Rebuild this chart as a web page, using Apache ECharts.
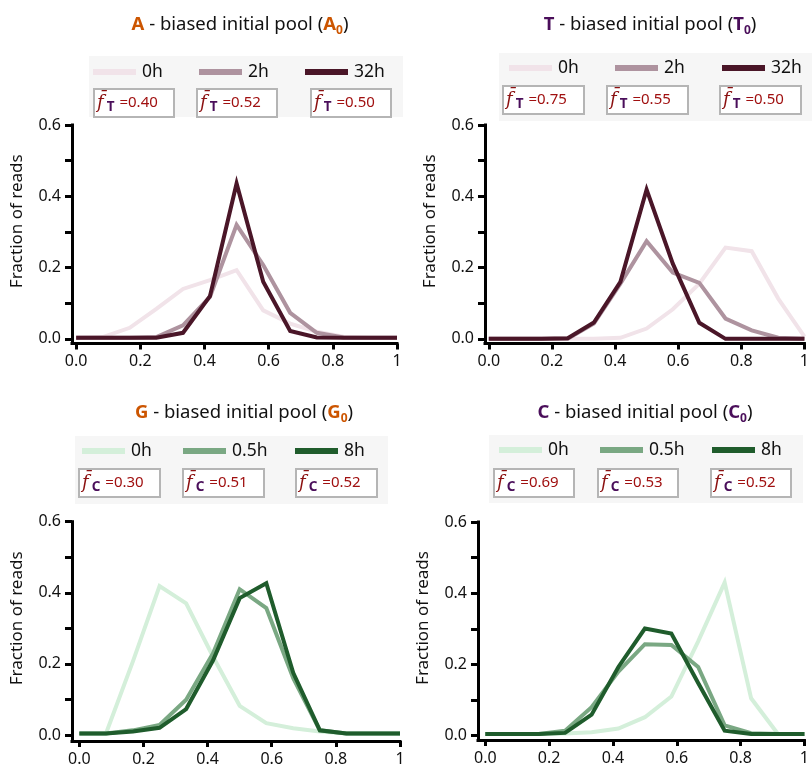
<!DOCTYPE html>
<html>
<head>
<meta charset="utf-8">
<script src="https://cdn.jsdelivr.net/npm/echarts@6/dist/echarts.min.js"></script>
<style>
  html, body { margin: 0; padding: 0; background: #ffffff; }
  #chart { width: 812px; height: 769px; }
</style>
</head>
<body>
<div id="chart"></div>
<script>
// Bin centres of the fraction axis (12 bins between 0 and 1)
const binCenters = [0, 0.083, 0.167, 0.25, 0.333, 0.417, 0.5, 0.583, 0.667, 0.75, 0.833, 0.917, 1];

// Axis ticks
const xTickValues = [0, 0.2, 0.4, 0.6, 0.8, 1];
const xTickLabels = ['0.0', '0.2', '0.4', '0.6', '0.8', '1'];
const yTickValues = [0, 0.1, 0.2, 0.3, 0.4, 0.5, 0.6];
const yLabelValues = [0, 0.2, 0.4, 0.6];
const yLabelTexts = ['0.0', '0.2', '0.4', '0.6'];

// A-biased pool
const aTimes = ['0h', '2h', '32h'];
const a0h  = [0.003, 0.005, 0.031, 0.084, 0.140, 0.165, 0.193, 0.080, 0.043, 0.020, 0.006, 0.003, 0.003];
const a2h  = [0.003, 0.003, 0.003, 0.005, 0.038, 0.118, 0.320, 0.207, 0.073, 0.017, 0.004, 0.003, 0.003];
const a32h = [0.003, 0.003, 0.003, 0.003, 0.017, 0.120, 0.436, 0.160, 0.022, 0.004, 0.003, 0.003, 0.003];
const aMeans = ['0.40', '0.52', '0.50'];

// T-biased pool
const tTimes = ['0h', '2h', '32h'];
const t0h  = [0, 0, 0, 0, 0, 0.003, 0.029, 0.083, 0.155, 0.256, 0.246, 0.113, 0.006];
const t2h  = [0, 0, 0, 0, 0.043, 0.155, 0.274, 0.186, 0.157, 0.057, 0.024, 0.003, 0];
const t32h = [0, 0, 0, 0.002, 0.046, 0.160, 0.419, 0.211, 0.045, 0, 0, 0, 0];
const tMeans = ['0.75', '0.55', '0.50'];

// G-biased pool
const gTimes = ['0h', '0.5h', '8h'];
const g0h  = [0.004, 0.004, 0.207, 0.419, 0.370, 0.220, 0.082, 0.033, 0.019, 0.010, 0.004, 0.004, 0.004];
const g05h = [0.004, 0.004, 0.013, 0.028, 0.099, 0.230, 0.410, 0.357, 0.160, 0.013, 0.004, 0.004, 0.004];
const g8h  = [0.004, 0.004, 0.010, 0.020, 0.073, 0.210, 0.385, 0.427, 0.175, 0.013, 0.004, 0.004, 0.004];
const gMeans = ['0.30', '0.51', '0.52'];

// C-biased pool
const cTimes = ['0h', '0.5h', '8h'];
const c0h  = [0.005, 0.005, 0.005, 0.006, 0.010, 0.020, 0.052, 0.110, 0.265, 0.430, 0.105, 0.005, 0.005];
const c05h = [0.005, 0.005, 0.005, 0.014, 0.080, 0.180, 0.257, 0.255, 0.193, 0.029, 0.007, 0.005, 0.005];
const c8h  = [0.005, 0.005, 0.005, 0.008, 0.059, 0.193, 0.301, 0.287, 0.148, 0.014, 0.005, 0.005, 0.005];
const cMeans = ['0.69', '0.53', '0.52'];

const FONT = 'Noto Sans';
const plum = ['#f1e3e9', '#ae939f', '#4a1628'];
const green = ['#d4efda', '#7aa883', '#1f5c2c'];
const ORANGE = '#cc5500';
const PURPLE = '#4a0e5a';

const panels = [
  {
    base: 'A', baseColor: ORANGE, sub: 'T', times: aTimes, values: [a0h, a2h, a32h], means: aMeans, colors: plum,
    grid: { left: 72, top: 125, width: 325, height: 218.5 }, xMin: -0.013, yMin: -0.013,
    title: [240, 25],
    box: [89, 56, 314, 61], swY: 72, swX: [93, 199, 305], fbY: 89, fbX: [94, 197, 311], fbW: 80
  },
  {
    base: 'T', baseColor: PURPLE, sub: 'T', times: tTimes, values: [t0h, t2h, t32h], means: tMeans, colors: plum,
    grid: { left: 485, top: 125, width: 322, height: 218.5 }, xMin: -0.012, yMin: -0.013,
    title: [650, 25],
    box: [499, 53, 313, 68], swY: 68, swX: [509, 615, 722], fbY: 86, fbX: [503, 607, 720], fbW: 81
  },
  {
    base: 'G', baseColor: ORANGE, sub: 'C', times: gTimes, values: [g0h, g05h, g8h], means: gMeans, colors: green,
    grid: { left: 72, top: 521.7, width: 328, height: 219.3 }, xMin: -0.023, yMin: -0.017,
    title: [244, 413],
    box: [75, 436, 313, 68], swY: 451, swX: [82, 183, 295], fbY: 469, fbX: [79, 183, 296], fbW: 81
  },
  {
    base: 'C', baseColor: PURPLE, sub: 'C', times: cTimes, values: [c0h, c05h, c8h], means: cMeans, colors: green,
    grid: { left: 478, top: 522, width: 328, height: 218 }, xMin: -0.023, yMin: -0.012,
    title: [645, 413],
    box: [489, 435, 314, 68], swY: 450, swX: [499, 600, 712], fbY: 469, fbX: [494, 598, 711], fbW: 80
  }
];

const grids = [], xAxes = [], yAxes = [], series = [], graphics = [];

panels.forEach((p, k) => {
  grids.push(Object.assign({ containLabel: false }, p.grid));

  xAxes.push({
    type: 'value', gridIndex: k, min: p.xMin, max: 1,
    splitLine: { show: false },
    axisLine: { show: true, onZero: false, lineStyle: { color: '#000', width: 3, cap: 'square' } },
    axisTick: { show: true, customValues: xTickValues, length: 6, lineStyle: { color: '#000', width: 3 } },
    axisLabel: {
      customValues: xTickValues, margin: 10, color: '#111', fontFamily: FONT, fontSize: 16,
      formatter: v => xTickLabels[xTickValues.findIndex(t => Math.abs(t - v) < 1e-6)]
    }
  });

  yAxes.push({
    type: 'value', gridIndex: k, min: p.yMin, max: 0.6,
    splitLine: { show: false },
    name: 'Fraction of reads', nameLocation: 'middle', nameGap: 46, nameRotate: 90,
    nameTextStyle: { color: '#111', fontFamily: FONT, fontSize: 17, padding: [0, 0, 0, 26] },
    axisLine: { show: true, onZero: false, lineStyle: { color: '#000', width: 3, cap: 'square' } },
    axisTick: { show: true, customValues: yTickValues, length: 7, lineStyle: { color: '#000', width: 3 } },
    axisLabel: {
      customValues: yLabelValues, margin: 11, color: '#111', fontFamily: FONT, fontSize: 16,
      formatter: v => yLabelTexts[yLabelValues.findIndex(t => Math.abs(t - v) < 1e-6)]
    }
  });

  p.times.forEach((name, j) => {
    series.push({
      type: 'line', name: name, xAxisIndex: k, yAxisIndex: k,
      data: binCenters.map((x, i) => [x, p.values[j][i]]),
      showSymbol: false, symbol: 'none', silent: true,
      lineStyle: { color: p.colors[j], width: 4, join: 'miter' },
      z: 2 + j
    });
  });

  // Panel title
  graphics.push({
    type: 'text', x: p.title[0], y: p.title[1],
    style: {
      text: `{b|${p.base}}{n| - biased initial pool (}{b|${p.base}}{s|0}{n|)}`,
      align: 'center', verticalAlign: 'middle',
      rich: {
        b: { fontFamily: FONT, fontSize: 18.5, fontWeight: 'bold', fill: p.baseColor, lineHeight: 24 },
        n: { fontFamily: FONT, fontSize: 18.5, fill: '#111', lineHeight: 24 },
        s: { fontFamily: FONT, fontSize: 12, fontWeight: 'bold', fill: p.baseColor, lineHeight: 12, verticalAlign: 'bottom' }
      }
    }
  });

  // Legend block: shaded background, line swatches, and mean-fraction boxes
  graphics.push({
    type: 'rect', shape: { x: p.box[0], y: p.box[1], width: p.box[2], height: p.box[3] },
    style: { fill: '#f6f6f6' }, z: 1
  });
  p.times.forEach((name, j) => {
    graphics.push({
      type: 'rect', shape: { x: p.swX[j], y: p.swY - 3, width: 43, height: 6 },
      style: { fill: p.colors[j] }, z: 2
    });
    graphics.push({
      type: 'text', x: p.swX[j] + 49, y: p.swY,
      style: { text: name, fontFamily: FONT, fontSize: 17.5, fill: '#111', verticalAlign: 'middle' }, z: 2
    });
    graphics.push({
      type: 'rect', shape: { x: p.fbX[j], y: p.fbY, width: p.fbW, height: 28 },
      style: { fill: '#ffffff', stroke: '#b5b5b5', lineWidth: 2 }, z: 2
    });
    graphics.push({
      type: 'text', x: p.fbX[j] + 3, y: p.fbY + 14,
      style: {
        text: `{f|f\u0304}{t|${p.sub}}{v|=${p.means[j]}}`,
        verticalAlign: 'middle',
        rich: {
          f: { fontFamily: 'DejaVu Serif', fontStyle: 'italic', fontSize: 18, fill: '#8b1010', lineHeight: 22 },
          t: { fontFamily: FONT, fontWeight: 'bold', fontSize: 13.5, fill: PURPLE, lineHeight: 13, verticalAlign: 'bottom', padding: [0, 0, 0, 3] },
          v: { fontFamily: FONT, fontSize: 15, fill: '#a01010', lineHeight: 22, padding: [0, 0, 0, 5] }
        }
      }, z: 3
    });
  });
});

const chart = echarts.init(document.getElementById('chart'), null, { renderer: 'canvas' });
chart.setOption({
  animation: false,
  backgroundColor: '#ffffff',
  textStyle: { fontFamily: FONT },
  grid: grids,
  xAxis: xAxes,
  yAxis: yAxes,
  series: series,
  graphic: graphics
});
</script>
</body>
</html>
